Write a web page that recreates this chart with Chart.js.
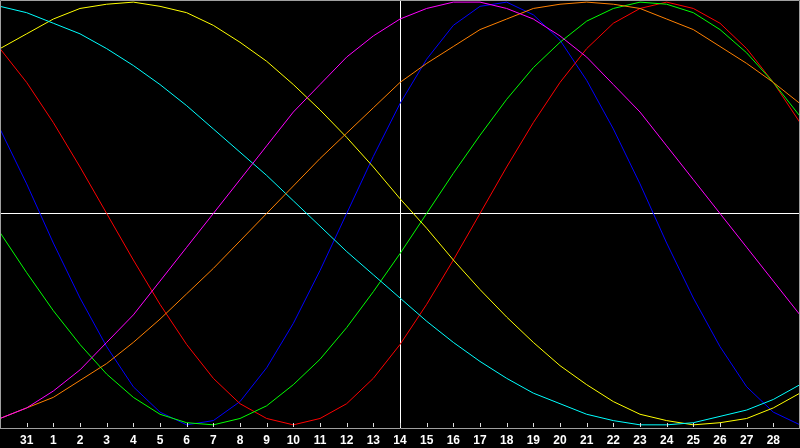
<!DOCTYPE html>
<html>
<head>
<meta charset="utf-8">
<script src="https://cdn.jsdelivr.net/npm/chart.js@4.4.0/dist/chart.umd.min.js"></script>
<style>
  html, body { margin: 0; padding: 0; background: #000; }
  #wrap { width: 800px; height: 448px; }
</style>
</head>
<body>
<div id="wrap"><canvas id="bioChart" width="800" height="448"></canvas></div>
<script>
// days shown across the chart (first and last are not labelled)
const days = ['30', '31', '1', '2', '3', '4', '5', '6', '7', '8', '9', '10', '11', '12', '13', '14',
    '15', '16', '17', '18', '19', '20', '21', '22', '23', '24', '25', '26', '27', '28', '29'];
const todayLabel = '14';

// cycle values, -1..1, one per day
const physical = [0.40, 0.14, -0.14, -0.40, -0.63, -0.82, -0.94, -1.00, -0.98, -0.89, -0.73, -0.52, -0.27, 0, 0.27, 0.52,
    0.73, 0.89, 0.98, 1.00, 0.94, 0.82, 0.63, 0.40, 0.14, -0.14, -0.40, -0.63, -0.82, -0.94, -1.00];
const emotional = [0.78, 0.62, 0.43, 0.22, 0, -0.22, -0.43, -0.62, -0.78, -0.90, -0.97, -1.00, -0.97, -0.90, -0.78, -0.62,
    -0.43, -0.22, 0, 0.22, 0.43, 0.62, 0.78, 0.90, 0.97, 1.00, 0.97, 0.90, 0.78, 0.62, 0.43];
const intellectual = [-0.09, -0.28, -0.46, -0.62, -0.76, -0.87, -0.95, -0.99, -1.00, -0.97, -0.91, -0.81, -0.69, -0.54, -0.37, -0.19,
    0, 0.19, 0.37, 0.54, 0.69, 0.81, 0.91, 0.97, 1.00, 0.99, 0.95, 0.87, 0.76, 0.62, 0.46];
const intuitive = [-0.97, -0.92, -0.84, -0.74, -0.61, -0.48, -0.32, -0.16, 0, 0.16, 0.32, 0.48, 0.61, 0.74, 0.84, 0.92,
    0.97, 1.00, 1.00, 0.97, 0.92, 0.84, 0.74, 0.61, 0.48, 0.32, 0.16, 0, -0.16, -0.32, -0.48];
const aesthetic = [0.78, 0.85, 0.92, 0.97, 0.99, 1.00, 0.98, 0.95, 0.89, 0.81, 0.72, 0.61, 0.49, 0.36, 0.22, 0.07,
    -0.07, -0.22, -0.36, -0.49, -0.61, -0.72, -0.81, -0.89, -0.95, -0.98, -1.00, -0.99, -0.97, -0.92, -0.85];
const awareness = [-0.97, -0.92, -0.87, -0.79, -0.71, -0.61, -0.50, -0.38, -0.26, -0.13, 0, 0.13, 0.26, 0.38, 0.50, 0.62,
    0.71, 0.79, 0.87, 0.92, 0.97, 0.99, 1.00, 0.99, 0.97, 0.92, 0.87, 0.79, 0.71, 0.62, 0.52];
const spiritual = [0.98, 0.95, 0.90, 0.85, 0.78, 0.70, 0.61, 0.51, 0.40, 0.29, 0.18, 0.06, -0.06, -0.18, -0.29, -0.40,
    -0.51, -0.61, -0.70, -0.78, -0.85, -0.90, -0.95, -0.98, -1.00, -1.00, -0.99, -0.96, -0.93, -0.88, -0.81];

const GRAY = '#a0a0a0';

// frame, inward tick marks and the white cross for today / zero
const framePlugin = {
    id: 'frame',
    beforeDatasetsDraw(chart) {
        const { ctx, chartArea: a, scales } = chart;
        const xToday = Math.round(scales.x.getPixelForValue(days.indexOf(todayLabel))) + 0.5;
        const yZero = Math.round(scales.y.getPixelForValue(0)) + 0.5;
        ctx.save();
        ctx.strokeStyle = '#ffffff';
        ctx.lineWidth = 1;
        ctx.beginPath();
        ctx.moveTo(xToday, a.top);
        ctx.lineTo(xToday, a.bottom);
        ctx.moveTo(a.left, yZero);
        ctx.lineTo(a.right, yZero);
        ctx.stroke();
        ctx.restore();
    },
    afterDraw(chart) {
        const { ctx, chartArea: a, scales } = chart;
        ctx.save();
        ctx.lineWidth = 1;
        ctx.strokeStyle = GRAY;
        ctx.beginPath();
        ctx.moveTo(a.left + 0.5, a.bottom);
        ctx.lineTo(a.left + 0.5, a.top + 0.5);
        ctx.lineTo(a.right - 0.5, a.top + 0.5);
        ctx.lineTo(a.right - 0.5, a.bottom);
        ctx.stroke();
        ctx.strokeStyle = '#e0e0e0';
        ctx.beginPath();
        for (let i = 1; i < days.length - 1; i++) {
            const x = Math.round(scales.x.getPixelForValue(i)) + 0.5;
            ctx.moveTo(x, a.bottom - 5);
            ctx.lineTo(x, a.bottom - 1);
        }
        ctx.stroke();
        ctx.restore();
    }
};

function series(data, color) {
    return {
        data: data,
        borderColor: color,
        borderWidth: 1,
        pointRadius: 0,
        tension: 0,
        fill: false
    };
}

const bioCtx = document.getElementById('bioChart').getContext('2d');
new Chart(bioCtx, {
    type: 'line',
    data: {
        labels: days,
        datasets: [
            series(intuitive, '#ff00ff'),
            series(awareness, '#ff8000'),
            series(spiritual, '#00ffff'),
            series(aesthetic, '#ffff00'),
            series(intellectual, '#00ff00'),
            series(emotional, '#ff0000'),
            series(physical, '#0000ff')
        ]
    },
    options: {
        responsive: false,
        animation: false,
        devicePixelRatio: 1,
        layout: { padding: 0, autoPadding: false },
        plugins: {
            legend: { display: false },
            tooltip: { enabled: false }
        },
        events: [],
        scales: {
            x: {
                offset: false,
                grid: { display: false, drawTicks: false },
                border: { display: true, color: GRAY, width: 1 },
                ticks: {
                    autoSkip: false,
                    maxRotation: 0,
                    padding: 5,
                    color: '#ffffff',
                    font: { family: 'Liberation Sans', size: 12, weight: 'bold' },
                    callback: (v, i) => (i === 0 || i === days.length - 1) ? '' : days[i]
                },
                afterFit: (scale) => {
                    scale.height = 20;
                    scale.paddingLeft = 0;
                    scale.paddingRight = 0;
                }
            },
            y: {
                display: false,
                min: -1.015,
                max: 1.01
            }
        }
    },
    plugins: [framePlugin]
});
</script>
</body>
</html>
